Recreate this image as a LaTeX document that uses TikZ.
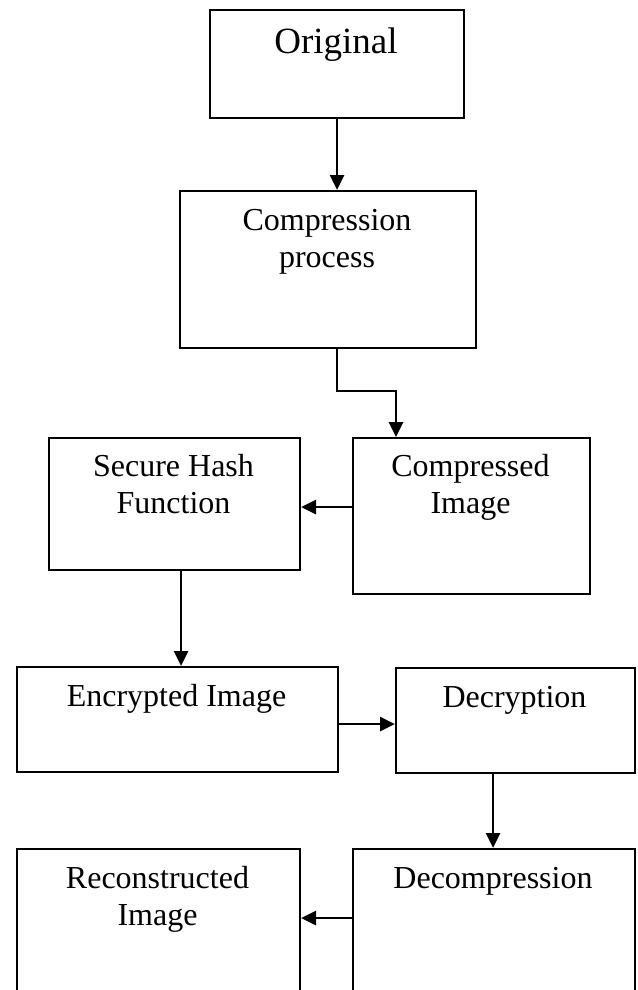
\documentclass[tikz,border=0pt]{standalone}
\usepackage{fontspec}
\setmainfont{Liberation Serif}
\usetikzlibrary{arrows.meta}

\tikzset{
  stagebox/.style={draw, line width=2.1pt, rectangle, inner sep=0pt, anchor=north west},
  caption/.style={font=\fontsize{32}{37}\selectfont, align=center, anchor=base, inner sep=0pt},
  bigcaption/.style={font=\fontsize{37}{42}\selectfont, align=center, anchor=base, inner sep=0pt},
  flow/.style={line width=2.6pt, -{Triangle[length=15pt,width=14pt]}}
}

\begin{document}
\begin{tikzpicture}[x=1pt, y=-1pt]
\useasboundingbox (0,0) rectangle (637,990);
\clip (0,0) rectangle (637,990);

% stage boxes
\node[stagebox, minimum width=254pt, minimum height=108pt] (orig)   at (209,9)   {};
\node[stagebox, minimum width=296pt, minimum height=157pt] (comp)   at (179,190) {};
\node[stagebox, minimum width=251pt, minimum height=132pt] (hash)   at (48,437)  {};
\node[stagebox, minimum width=237pt, minimum height=156pt] (cimg)   at (352,437) {};
\node[stagebox, minimum width=321pt, minimum height=105pt] (enc)    at (16,666)  {};
\node[stagebox, minimum width=239pt, minimum height=105pt] (dec)    at (395,667) {};
\node[stagebox, minimum width=283pt, minimum height=160pt] (recon)  at (16,848)  {};
\node[stagebox, minimum width=282pt, minimum height=160pt] (decomp) at (352,848) {};

% captions (base anchor sits on the last line)
\node[bigcaption] (origT)   at (336,53)    {Original};
\node[caption]    (compT)   at (327,267)   {Compression\\process};
\node[caption]    (hashT)   at (173.5,513) {Secure Hash\\Function};
\node[caption]    (cimgT)   at (470.5,513) {Compressed\\Image};
\node[caption]    (encT)    at (176.5,706) {Encrypted Image};
\node[caption]    (decT)    at (514.5,707) {Decryption};
\node[caption]    (reconT)  at (157.5,925) {Reconstructed\\Image};
\node[caption]    (decompT) at (493,888)   {Decompression};

% connectors
\draw[flow] (orig.south) -- (orig.south |- comp.north);
\coordinate (bend) at (396,391);
\draw[flow] (orig.south |- comp.south) |- (bend) -- (bend |- cimg.north);
\draw[flow] ([yshift=9pt]cimg.west) -- ([yshift=9pt]cimg.west -| hash.east);
\draw[flow] ([xshift=6.5pt]hash.south) -- ([xshift=6.5pt]hash.south |- enc.north);
\draw[flow] ([yshift=-4.5pt]enc.east) -- ([yshift=-4.5pt]enc.east -| dec.west);
\draw[flow] ([xshift=-22.5pt]dec.south) -- ([xshift=-22.5pt]dec.south |- decomp.north);
\draw[flow] ([yshift=11pt]decomp.west) -- ([yshift=11pt]decomp.west -| recon.east);
\end{tikzpicture}
\end{document}
